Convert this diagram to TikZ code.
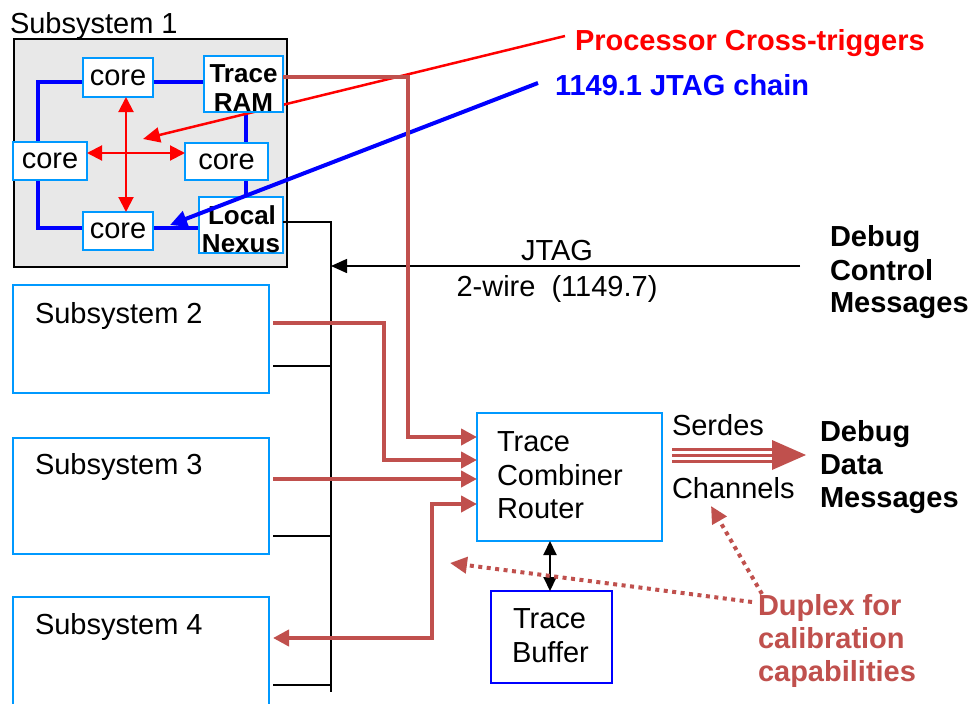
\documentclass[tikz,border=0pt]{standalone}
\usepackage{fontspec}
\setmainfont{Liberation Sans}
\usetikzlibrary{arrows.meta}
\definecolor{lblue}{RGB}{0,153,255}
\definecolor{jblue}{RGB}{0,0,255}
\definecolor{xred}{RGB}{255,0,0}
\definecolor{trred}{RGB}{192,80,77}
\definecolor{sgray}{RGB}{232,232,232}
\pgfdeclarelayer{bg}
\pgfdeclarelayer{wires}
\pgfsetlayers{bg,wires,main}
\begin{document}
\begin{tikzpicture}[x=1pt,y=-1pt,
  every node/.style={inner sep=0pt,outer sep=0pt},
  fnt/.style={font=\fontsize{29}{33}\selectfont},
  bfnt/.style={font=\fontsize{29}{33}\selectfont\bfseries},
  sfnt/.style={font=\fontsize{26}{29}\selectfont\bfseries},
  corebox/.style={draw=lblue,line width=2pt,fill=white,anchor=north west,fnt},
  subbox/.style={draw=lblue,line width=2pt,fill=white,anchor=north west},
  ring/.style={draw=jblue,line width=4pt,line join=miter},
  xarr/.style={draw=xred,line width=2pt,{Triangle[length=15pt,width=15pt]}-{Triangle[length=15pt,width=15pt]}},
  trace/.style={draw=trred,line width=4pt,line join=miter},
  trtip/.style={-{Triangle[length=16pt,width=16pt]}},
  bus/.style={draw=black,line width=1.5pt},
  dotarr/.style={draw=trred,line width=4pt,dash pattern=on 4pt off 4.5pt,-{Triangle[length=17pt,width=16pt]}},
  lbl/.style={anchor=base west}]

\begin{pgfonlayer}{bg}
  \fill[white] (0,0) rectangle (970,704);
\end{pgfonlayer}
\clip (0,0) rectangle (970,704);

% ---------- Subsystem 1 ----------
\begin{pgfonlayer}{bg}
  \node[draw=black,line width=2pt,fill=sgray,anchor=north west,
        minimum width=273pt,minimum height=228pt] (sub1) at (14,39) {};
\end{pgfonlayer}
\node[fnt,lbl] (sub1lbl) at (10,33) {Subsystem 1};

\node[corebox,minimum width=70pt,minimum height=39pt] (ctop)   at (83,58)   {core};
\node[corebox,minimum width=74pt,minimum height=38pt] (cleft)  at (13,142)  {core};
\node[corebox,minimum width=83pt,minimum height=37pt] (cright) at (185,143) {core};
\node[corebox,minimum width=70pt,minimum height=38pt] (cbot)   at (83,212)  {core};
\node[corebox,minimum width=79pt,minimum height=56pt] (ram)    at (204,56)  {};
\node[corebox,minimum width=84pt,minimum height=56pt] (nexus)  at (199,197) {};
\node[sfnt,anchor=base] (ramt1) at (243.5,82)  {Trace};
\node[sfnt,anchor=base] (ramt2) at (243.5,111) {RAM};
\node[sfnt,anchor=base] (nxt1)  at (242,224)   {Local};
\node[sfnt,anchor=base] (nxt2)  at (241,252)   {Nexus};

% scan ring joining the cores
\coordinate (rnw) at (38,82);
\coordinate (rne) at (246,82);
\coordinate (rse) at (246,228);
\coordinate (rsw) at (38,228);
\begin{pgfonlayer}{wires}
  \draw[ring] (ram.west |- rne) -- (ctop.east |- rne);
  \draw[ring] (ctop.west |- rnw) -- (rnw) -- (cleft.north -| rnw);
  \draw[ring] (cleft.south -| rsw) -- (rsw) -- (cbot.west |- rsw);
  \draw[ring] (cbot.east |- rse) -- (nexus.west |- rse);
  \draw[ring] (ram.south -| rne) -- (cright.north -| rne);
  \draw[ring] (cright.south -| rse) -- (nexus.north -| rse);
\end{pgfonlayer}

% cross-trigger arrows
\coordinate (xc) at (126,153);
\draw[xarr] (ctop.south -| xc) -- (cbot.north -| xc);
\draw[xarr] (cleft.east |- xc) -- (cright.west |- xc);

% processor cross-trigger callout
\node[bfnt,lbl,text=xred] (pct) at (575,50) {Processor Cross-triggers};
\coordinate (pctin) at (565,36);
\coordinate (pcttip) at (143,139);
\begin{pgfonlayer}{wires}
  \draw[draw=xred,line width=2.5pt,-{Triangle[length=17pt,width=15pt]}] (pctin) -- (pcttip);
\end{pgfonlayer}

% JTAG chain callout
\node[bfnt,lbl,text=jblue] (jtc) at (555,95) {1149.1 JTAG chain};
\coordinate (jtcin) at (538,83);
\coordinate (jtctip) at (170,225);
\draw[draw=jblue,line width=4pt,-{Triangle[length=17pt,width=16pt]}] (jtcin) -- (jtctip);

% ---------- Subsystems 2-4 ----------
\node[subbox,minimum width=256pt,minimum height=108pt] (sub2) at (13,285) {};
\node[subbox,minimum width=256pt,minimum height=116pt] (sub3) at (13,438) {};
\node[subbox,minimum width=256pt,minimum height=130pt] (sub4) at (13,597) {};
\node[fnt,lbl] (sub2lbl) at (35,323) {Subsystem 2};
\node[fnt,lbl] (sub3lbl) at (35,474) {Subsystem 3};
\node[fnt,lbl] (sub4lbl) at (35,634) {Subsystem 4};

% ---------- Trace combiner and buffer ----------
\node[subbox,minimum width=185pt,minimum height=128pt] (tcr) at (477,413) {};
\node[fnt,lbl] (tcr1) at (497,451) {Trace};
\node[fnt,lbl] (tcr2) at (497,485) {Combiner};
\node[fnt,lbl] (tcr3) at (497,518) {Router};

\node[draw=jblue,line width=2pt,fill=white,anchor=north west,
      minimum width=121pt,minimum height=92pt] (tbuf) at (491,591) {};
\node[fnt,lbl] (tb1) at (513,628) {Trace};
\node[fnt,lbl] (tb2) at (512,662) {Buffer};

\coordinate (tbx) at (550,0);
\draw[line width=2pt,{Triangle[length=14pt,width=13pt]}-{Triangle[length=14pt,width=13pt]}]
  (tcr.south -| tbx) -- (tbuf.north -| tbx);

% ---------- debug bus ----------
\coordinate (busx) at (331,0);
\draw[bus] (nexus.east |- 0,222) -- (331,222) -- (331,692);
\draw[bus] ([xshift=4pt]sub2.east |- 0,366) -- (busx |- 0,366);
\draw[bus] ([xshift=4pt]sub3.east |- 0,536) -- (busx |- 0,536);
\draw[bus] ([xshift=4pt]sub4.east |- 0,685) -- (busx |- 0,685);

\coordinate (jtagin) at (800,266);
\draw[bus,-{Triangle[length=16pt,width=14pt]}] (jtagin) -- (busx |- jtagin);
\node[fnt,anchor=base] (jtag1) at (557,260) {JTAG};
\node[fnt,anchor=base] (jtag2) at (557,296) {2-wire\ \ (1149.7)};

\node[bfnt,lbl] (dc1) at (830,246) {Debug};
\node[bfnt,lbl] (dc2) at (830,280) {Control};
\node[bfnt,lbl] (dc3) at (830,312) {Messages};

% ---------- trace paths ----------
\coordinate (t1a) at (408,77);
\coordinate (t1b) at (408,437);
\draw[trace,trtip] (ram.east |- t1a) -- (t1a) -- (t1b) -- (tcr.west |- t1b);

\coordinate (t2a) at (384,323);
\coordinate (t2b) at (384,460);
\draw[trace,trtip] ([xshift=4pt]sub2.east |- t2a) -- (t2a) -- (t2b) -- (tcr.west |- t2b);

\coordinate (t3a) at (400,479);
\draw[trace,trtip] ([xshift=4pt]sub3.east |- t3a) -- (tcr.west |- t3a);

\coordinate (t4a) at (432,638);
\coordinate (t4b) at (432,504);
\draw[trace,{Triangle[length=16pt,width=16pt]}-{Triangle[length=16pt,width=16pt]}]
  ([xshift=4pt]sub4.east |- t4a) -- (t4a) -- (t4b) -- (tcr.west |- t4b);

% ---------- serdes channels ----------
\node[fnt,lbl] (serdes) at (672,435) {Serdes};
\node[fnt,lbl] (chan) at (672,498) {Channels};
\coordinate (sdtip) at (806,455);
\foreach \yy in {449,455,461}
  \draw[draw=trred,line width=3pt] (672,\yy) -- (776,\yy);
\fill[trred] (772,440) -- (sdtip) -- (772,470) -- cycle;

\node[bfnt,lbl] (dd1) at (820,441) {Debug};
\node[bfnt,lbl] (dd2) at (820,474) {Data};
\node[bfnt,lbl] (dd3) at (820,507) {Messages};

% ---------- duplex note ----------
\node[bfnt,lbl,text=trred] (dx1) at (758,615) {Duplex for};
\node[bfnt,lbl,text=trred] (dx2) at (758,648) {calibration};
\node[bfnt,lbl,text=trred] (dx3) at (758,681) {capabilities};
\coordinate (dxa) at (752,602);
\coordinate (dxb) at (762,594);
\coordinate (dxtipl) at (450,563);
\coordinate (dxtipu) at (711,506);
\draw[dotarr] (dxa) -- (dxtipl);
\draw[dotarr] (dxb) -- (dxtipu);

\end{tikzpicture}
\end{document}
